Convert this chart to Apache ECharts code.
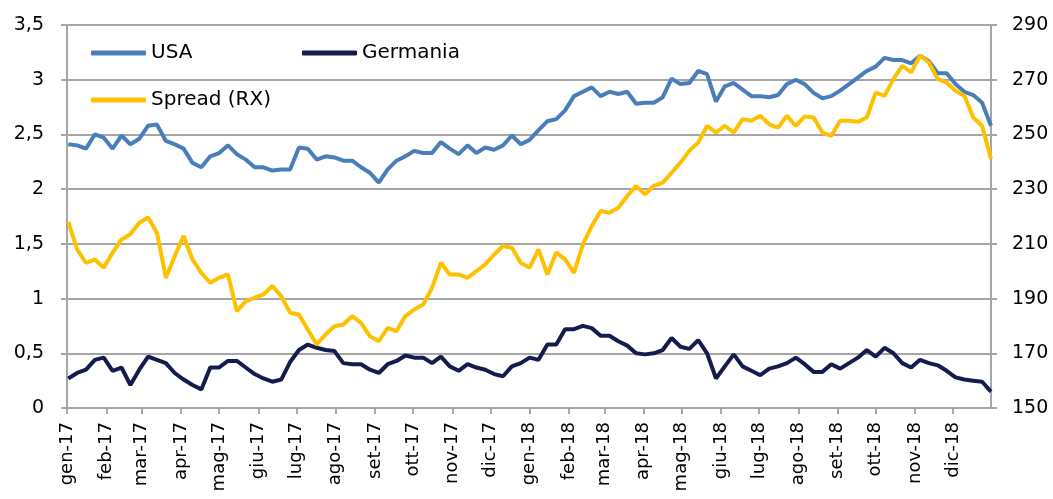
<!DOCTYPE html>
<html>
<head>
<meta charset="utf-8">
<script src="https://cdn.jsdelivr.net/npm/echarts@6/dist/echarts.min.js"></script>
<style>
  html, body { margin: 0; padding: 0; background: #fff; }
  #main { width: 1053px; height: 499px; }
</style>
</head>
<body>
<div id="main"></div>
<script>
// weekly readings, gen-17 .. dic-18
const dates = [
  '2017-01-02','2017-01-09','2017-01-16','2017-01-23','2017-01-30','2017-02-06','2017-02-13','2017-02-20','2017-02-27',
  '2017-03-06','2017-03-13','2017-03-20','2017-03-27','2017-04-03','2017-04-10','2017-04-17','2017-04-24','2017-05-01',
  '2017-05-08','2017-05-15','2017-05-22','2017-05-29','2017-06-05','2017-06-12','2017-06-19','2017-06-26','2017-07-03',
  '2017-07-10','2017-07-17','2017-07-24','2017-07-31','2017-08-07','2017-08-14','2017-08-21','2017-08-28','2017-09-04',
  '2017-09-11','2017-09-18','2017-09-25','2017-10-02','2017-10-09','2017-10-16','2017-10-23','2017-10-30','2017-11-06',
  '2017-11-13','2017-11-20','2017-11-27','2017-12-04','2017-12-11','2017-12-18','2017-12-25',
  '2018-01-01','2018-01-08','2018-01-15','2018-01-22','2018-01-29','2018-02-05','2018-02-12','2018-02-19','2018-02-26',
  '2018-03-05','2018-03-12','2018-03-19','2018-03-26','2018-04-02','2018-04-09','2018-04-16','2018-04-23','2018-04-30',
  '2018-05-07','2018-05-14','2018-05-21','2018-05-28','2018-06-04','2018-06-11','2018-06-18','2018-06-25','2018-07-02',
  '2018-07-09','2018-07-16','2018-07-23','2018-07-30','2018-08-06','2018-08-13','2018-08-20','2018-08-27','2018-09-03',
  '2018-09-10','2018-09-17','2018-09-24','2018-10-01','2018-10-08','2018-10-15','2018-10-22','2018-10-29','2018-11-05',
  '2018-11-12','2018-11-19','2018-11-26','2018-12-03','2018-12-10','2018-12-17','2018-12-24','2018-12-31'
];

const usa = [
  2.41, 2.40, 2.37, 2.50, 2.47, 2.37, 2.49, 2.41, 2.46, 2.58, 2.59, 2.44, 2.41, 2.37, 2.24, 2.20, 2.30, 2.33,
  2.40, 2.32, 2.27, 2.20, 2.20, 2.17, 2.18, 2.18, 2.38, 2.37, 2.27, 2.30, 2.29, 2.26, 2.26, 2.20, 2.15, 2.06,
  2.18, 2.26, 2.30, 2.35, 2.33, 2.33, 2.43, 2.37, 2.32, 2.40, 2.33, 2.38, 2.36, 2.40, 2.49, 2.41,
  2.45, 2.54, 2.62, 2.64, 2.72, 2.85, 2.89, 2.93, 2.85, 2.89, 2.87, 2.89, 2.78, 2.79, 2.79, 2.84, 3.01, 2.96,
  2.97, 3.08, 3.05, 2.80, 2.94, 2.97, 2.91, 2.85, 2.85, 2.84, 2.86, 2.96, 3.00, 2.96, 2.88, 2.83, 2.85, 2.90,
  2.96, 3.02, 3.08, 3.12, 3.20, 3.18, 3.18, 3.15, 3.22, 3.17, 3.06, 3.06, 2.96, 2.89, 2.86, 2.79, 2.58
];

const germania = [
  0.27, 0.32, 0.35, 0.44, 0.46, 0.34, 0.37, 0.21, 0.35, 0.47, 0.44, 0.41, 0.32, 0.26, 0.21, 0.17, 0.37, 0.37,
  0.43, 0.43, 0.37, 0.31, 0.27, 0.24, 0.26, 0.42, 0.53, 0.58, 0.55, 0.53, 0.52, 0.41, 0.40, 0.40, 0.35, 0.32,
  0.40, 0.43, 0.48, 0.46, 0.46, 0.41, 0.47, 0.38, 0.34, 0.40, 0.37, 0.35, 0.31, 0.29, 0.38, 0.41,
  0.46, 0.44, 0.58, 0.58, 0.72, 0.72, 0.75, 0.73, 0.66, 0.66, 0.61, 0.57, 0.50, 0.49, 0.50, 0.53, 0.64, 0.56,
  0.54, 0.62, 0.50, 0.27, 0.38, 0.49, 0.38, 0.34, 0.30, 0.36, 0.38, 0.41, 0.46, 0.40, 0.33, 0.33, 0.40, 0.36,
  0.41, 0.46, 0.53, 0.47, 0.55, 0.50, 0.41, 0.37, 0.44, 0.41, 0.39, 0.34, 0.28, 0.26, 0.25, 0.24, 0.15
];

const spread = [
  218, 208, 203, 204.3, 201.3, 206.8, 211.6, 213.5, 217.7, 219.6, 214, 197.6, 205.5, 212.9, 204.3, 199.4, 195.8, 197.6,
  198.8, 185.4, 189, 190.3, 191.5, 194.6, 190.9, 184.8, 184.2, 178.7, 173.2, 176.9, 179.9, 180.5, 183.6, 181.1, 176.2, 174.4,
  179.3, 178.1, 183.6, 186, 187.8, 193.9, 203.1, 198.8, 198.8, 197.6, 200, 202.5, 206.1, 209.2, 208.6, 203.1,
  201.3, 208, 198.8, 206.8, 204.3, 199.4, 209.8, 216.5, 222, 221.4, 223.2, 227.5, 231.2, 228.1, 231.2, 232.4, 236, 239.7,
  244, 247, 253.1, 250.7, 253.1, 250.7, 255.6, 255, 256.8, 253.7, 252.5, 256.8, 253.1, 256.6, 256.2, 250.7, 249.5, 255,
  255, 254.6, 256.2, 265.3, 264.1, 270.2, 275.1, 272.7, 278.8, 276.3, 270.2, 269, 266, 264.1, 256.2, 253.1, 241
];

const monthNames = ['gen', 'feb', 'mar', 'apr', 'mag', 'giu', 'lug', 'ago', 'set', 'ott', 'nov', 'dic'];
const seriesNames = ['USA', 'Germania', 'Spread (RX)'];
const colors = ['#4a7ebb', '#141b4d', '#ffc000'];

const FONT = 'DejaVu Sans';
const GRID_GRAY = '#a6a6a6';

function toPairs(values) {
  return dates.map((d, i) => [d, values[i]]);
}

const chart = echarts.init(document.getElementById('main'));

const legendBase = {
  icon: 'roundRect',
  itemWidth: 55,
  itemHeight: 5,
  padding: 0,
  textStyle: { fontFamily: FONT, fontSize: 20, color: '#000' }
};

const option = {
  animation: false,
  color: colors,
  textStyle: { fontFamily: FONT },
  grid: { left: 67, right: 62, top: 25, bottom: 91, containLabel: false },
  legend: [
    Object.assign({ data: [seriesNames[0]], left: 91, top: 43 }, legendBase),
    Object.assign({ data: [seriesNames[1]], left: 302, top: 43 }, legendBase),
    Object.assign({ data: [seriesNames[2]], left: 91, top: 90 }, legendBase)
  ],
  xAxis: {
    type: 'time',
    min: '2017-01-01',
    max: '2018-12-31',
    splitNumber: 24,
    minInterval: 28 * 86400000,
    maxInterval: 31 * 86400000,
    axisLine: { lineStyle: { color: GRID_GRAY, width: 2 } },
    axisTick: { show: true, length: 6, lineStyle: { color: GRID_GRAY, width: 2 } },
    splitLine: { show: false },
    axisLabel: {
      rotate: 90,
      margin: 14,
      fontSize: 18,
      color: '#000',
      fontFamily: FONT,
      showMaxLabel: false,
      formatter: (value) => {
        const d = new Date(value);
        return monthNames[d.getMonth()] + '-' + String(d.getFullYear()).slice(2);
      }
    }
  },
  yAxis: [
    {
      type: 'value',
      min: 0,
      max: 3.5,
      interval: 0.5,
      axisLine: { show: true, lineStyle: { color: GRID_GRAY, width: 2 } },
      axisTick: { show: true, length: 6, lineStyle: { color: GRID_GRAY, width: 2 } },
      splitLine: { show: true, lineStyle: { color: GRID_GRAY, width: 2 } },
      axisLabel: {
        margin: 23,
        fontSize: 19,
        color: '#000',
        fontFamily: FONT,
        formatter: (v) => String(v).replace('.', ',')
      }
    },
    {
      type: 'value',
      min: 150,
      max: 290,
      interval: 20,
      position: 'right',
      axisLine: { show: true, lineStyle: { color: GRID_GRAY, width: 2 } },
      axisTick: { show: true, length: 6, lineStyle: { color: GRID_GRAY, width: 2 } },
      splitLine: { show: false },
      axisLabel: { margin: 21, fontSize: 19, color: '#000', fontFamily: FONT }
    }
  ],
  series: [
    {
      name: seriesNames[0],
      type: 'line',
      data: toPairs(usa),
      showSymbol: false,
      lineStyle: { width: 4, color: colors[0] }
    },
    {
      name: seriesNames[1],
      type: 'line',
      data: toPairs(germania),
      showSymbol: false,
      lineStyle: { width: 4, color: colors[1] }
    },
    {
      name: seriesNames[2],
      type: 'line',
      yAxisIndex: 1,
      data: toPairs(spread),
      showSymbol: false,
      lineStyle: { width: 4, color: colors[2] }
    }
  ]
};

chart.setOption(option);
</script>
</body>
</html>
